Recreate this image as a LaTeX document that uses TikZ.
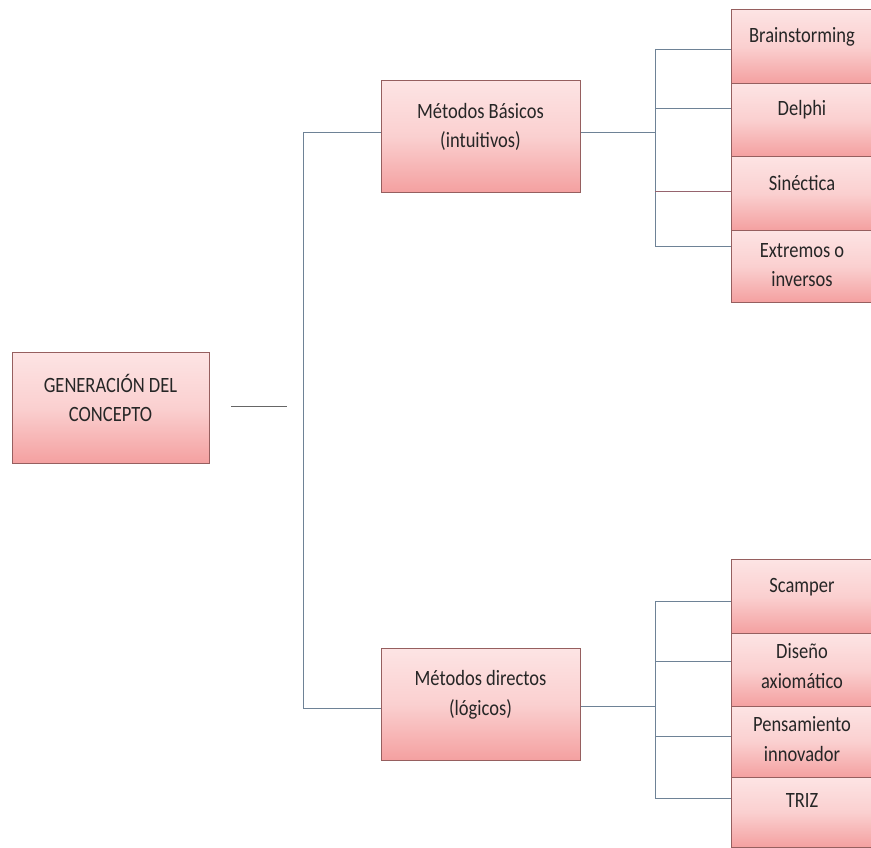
\documentclass[tikz,border=0pt]{standalone}
\usepackage{fontspec}
\setmainfont{Carlito}
\definecolor{pinktop}{RGB}{253,228,228}
\definecolor{pinkbot}{RGB}{244,160,160}
\definecolor{boxborder}{RGB}{150,95,95}
\definecolor{conn}{RGB}{110,130,150}
\definecolor{connred}{RGB}{150,100,110}
\tikzset{
  box/.style={draw=boxborder, line width=0.8pt, top color=pinktop, bottom color=pinkbot, middle color=pinktop!70!pinkbot, inner sep=0pt, anchor=north west},
  lbl/.style={font=\fontsize{18.5}{25}\selectfont, align=center, text=black!85, inner sep=0pt, yscale=1.18, transform shape},
  conline/.style={draw=conn, line width=0.9pt},
}
\begin{document}
\begin{tikzpicture}[x=1pt,y=-1pt]
\useasboundingbox[fill=white] (0,0) rectangle (871,848);
% boxes
\node[box, minimum width=197pt, minimum height=111pt] (root) at (12,352) {};
\node[box, minimum width=199pt, minimum height=112pt] (bas) at (381,80) {};
\node[box, minimum width=199pt, minimum height=112pt] (dir) at (381,648) {};
\node[box, minimum width=142pt, minimum height=74pt] (brain) at (731,9) {};
\node[box, minimum width=142pt, minimum height=73pt] (delphi) at (731,83) {};
\node[box, minimum width=142pt, minimum height=74pt] (sin) at (731,156) {};
\node[box, minimum width=142pt, minimum height=72pt] (ext) at (731,230) {};
\node[box, minimum width=142pt, minimum height=74pt] (scamp) at (731,559) {};
\node[box, minimum width=142pt, minimum height=73pt] (dis) at (731,633) {};
\node[box, minimum width=142pt, minimum height=71pt] (pens) at (731,706) {};
\node[box, minimum width=142pt, minimum height=70pt] (triz) at (731,777) {};
% labels
\node[lbl] (troot) at (110.5,398) {GENERACIÓN DEL\\CONCEPTO};
\node[lbl] (tbas) at (480.5,127) {Métodos Básicos\\(intuitivos)};
\node[lbl] (tdir) at (480.5,695) {Métodos directos\\(lógicos)};
\node[lbl] (tbrain) at (802,37) {Brainstorming};
\node[lbl] (tdelphi) at (802,110) {Delphi};
\node[lbl] (tsin) at (802,183) {Sinéctica};
\node[lbl] (text) at (802,265) {Extremos o\\inversos};
\node[lbl] (tscamp) at (802,587) {Scamper};
\node[lbl] (tdis) at (802,666) {Diseño\\axiomático};
\node[lbl] (tpens) at (802,739) {Pensamiento\\innovador};
\node[lbl] (ttriz) at (802,800) {TRIZ};
% connector coordinates
\coordinate (r1) at (231,406);
\coordinate (r2) at (287,406);
\coordinate (lt) at (303,132);
\coordinate (lb) at (303,708);
\coordinate (ua) at (655,132);
\coordinate (u1) at (655,49);
\coordinate (u2) at (655,108);
\coordinate (u3) at (655,191);
\coordinate (u4) at (655,246);
\coordinate (da) at (655,706);
\coordinate (d1) at (655,601);
\coordinate (d2) at (655,661);
\coordinate (d3) at (655,736);
\coordinate (d4) at (655,798);
% connectors
\draw[conline, draw=black!60] (r1) -- (r2);
\draw[conline] (lt -| bas.west) -- (lt) -- (lb) -- (lb -| dir.west);
\draw[conline] (ua -| bas.east) -- (ua);
\draw[conline] (u1) -- (u4);
\draw[conline] (u1) -- (u1 -| brain.west);
\draw[conline] (u2) -- (u2 -| delphi.west);
\draw[conline, draw=connred] (u3) -- (u3 -| sin.west);
\draw[conline] (u4) -- (u4 -| ext.west);
\draw[conline] (da -| dir.east) -- (da);
\draw[conline] (d1) -- (d4);
\draw[conline] (d1) -- (d1 -| scamp.west);
\draw[conline] (d2) -- (d2 -| dis.west);
\draw[conline] (d3) -- (d3 -| pens.west);
\draw[conline] (d4) -- (d4 -| triz.west);
\end{tikzpicture}
\end{document}
